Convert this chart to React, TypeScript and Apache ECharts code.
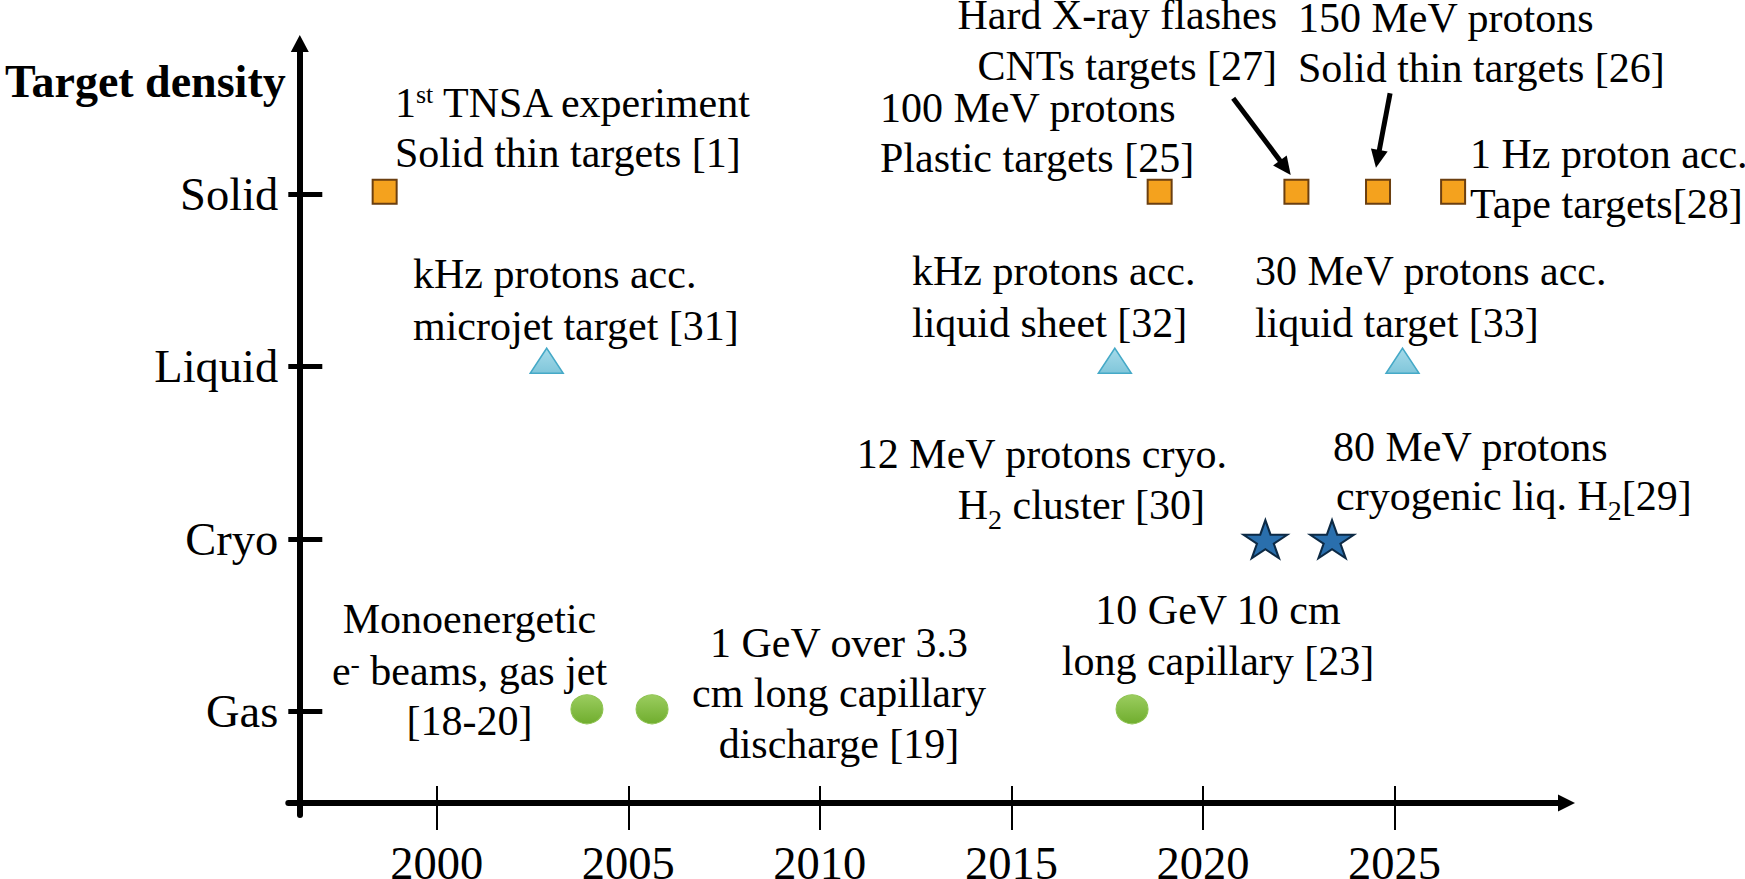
import React, { useEffect, useRef } from 'react';
import * as echarts from 'echarts';

// Target-density levels, bottom to top
const levelNames = ['Gas', 'Cryo', 'Liquid', 'Solid'];
const levelTicks = [1, 2, 3, 4];
const yearTicks = [2000, 2005, 2010, 2015, 2020, 2025];

// Experiment years on each density level
const solidYears = [1998.64, 2018.87, 2022.44, 2024.57, 2026.53];
const liquidYears = [2002.87, 2017.7, 2025.21];
const cryoYears = [2021.63, 2023.37];
const gasYears = [2003.92, 2005.62, 2018.15];

// Pointer arrows (from caption to marker), in [year, level]
const arrowFrom = [
  [2020.79, 4.557],
  [2024.885, 4.586],
];
const arrowTo = [
  [2022.15, 4.154],
  [2024.56, 4.205],
];

const X_MIN = 1996.125;
const X_MAX = 2029.49;
const Y_MIN = 0.401;
const Y_MAX = 4.874;

const SERIF = "'Liberation Serif', 'Times New Roman', Times, serif";
const NOTE_SIZE = 42;
const fontOf = (size: number, weight = 'normal') => `${weight} ${size}px ${SERIF}`;

type Align = 'left' | 'center' | 'right';
type Note = { text: string; x: number; base: number; align: Align };

// Caption lines; rich markup: {sup|..} superscript, {neg|..} raised minus, {sub|..} subscript
const notes: Note[] = [
  { text: '{n|1}{sup|st}{n| TNSA experiment}', x: 395, base: 117, align: 'left' },
  { text: 'Solid thin targets [1]', x: 395, base: 167, align: 'left' },
  { text: 'kHz protons acc.', x: 413, base: 288, align: 'left' },
  { text: 'microjet target [31]', x: 413, base: 340, align: 'left' },
  { text: '100 MeV protons', x: 880, base: 122, align: 'left' },
  { text: 'Plastic targets [25]', x: 880, base: 172, align: 'left' },
  { text: 'Hard X-ray flashes', x: 1277, base: 29, align: 'right' },
  { text: 'CNTs targets [27]', x: 1277, base: 80, align: 'right' },
  { text: '150 MeV protons', x: 1298, base: 32, align: 'left' },
  { text: 'Solid thin targets [26]', x: 1298, base: 82, align: 'left' },
  { text: '1 Hz proton acc.', x: 1470, base: 168, align: 'left' },
  { text: 'Tape targets[28]', x: 1470, base: 218, align: 'left' },
  { text: 'kHz protons acc.', x: 912, base: 285, align: 'left' },
  { text: 'liquid sheet [32]', x: 912, base: 337, align: 'left' },
  { text: '30 MeV protons acc.', x: 1255, base: 285, align: 'left' },
  { text: 'liquid target [33]', x: 1255, base: 337, align: 'left' },
  { text: '12 MeV protons cryo.', x: 1227, base: 468, align: 'right' },
  { text: '{s|H}{sub|2}{s| cluster [30]}', x: 1205, base: 519, align: 'right' },
  { text: '80 MeV protons', x: 1333, base: 461, align: 'left' },
  { text: '{s|cryogenic liq. H}{sub|2}{s|[29]}', x: 1336, base: 510, align: 'left' },
  { text: '10 GeV 10 cm', x: 1218, base: 624, align: 'center' },
  { text: 'long capillary [23]', x: 1218, base: 675, align: 'center' },
  { text: 'Monoenergetic', x: 469.5, base: 633, align: 'center' },
  { text: '{n|e}{neg|-}{n| beams, gas jet}', x: 469.5, base: 685, align: 'center' },
  { text: '[18-20]', x: 469.5, base: 735, align: 'center' },
  { text: '1 GeV over 3.3', x: 839, base: 657, align: 'center' },
  { text: 'cm long capillary', x: 839, base: 707, align: 'center' },
  { text: 'discharge [19]', x: 839, base: 758, align: 'center' },
];

const richStyles = {
  n: { font: fontOf(NOTE_SIZE), fontSize: NOTE_SIZE, fontFamily: SERIF, lineHeight: 42, fill: '#000' },
  s: { font: fontOf(NOTE_SIZE), fontSize: NOTE_SIZE, fontFamily: SERIF, lineHeight: 58, fill: '#000' },
  sup: { font: fontOf(26), fontSize: 26, fontFamily: SERIF, lineHeight: 26, verticalAlign: 'top', fill: '#000' },
  neg: { font: fontOf(28), fontSize: 28, fontFamily: SERIF, lineHeight: 18, verticalAlign: 'top', fill: '#000' },
  sub: { font: fontOf(28), fontSize: 28, fontFamily: SERIF, lineHeight: 28, verticalAlign: 'bottom', fill: '#000' },
};

const STAR =
  'path://M50,0L61.23,34.55L97.55,34.55L68.17,55.9L79.39,90.45L50,69.1L20.61,90.45L31.83,55.9L2.45,34.55L38.77,34.55Z';

export default function App() {
  const ref = useRef<HTMLDivElement>(null);

  useEffect(() => {
    if (!ref.current) return;
    const chart = echarts.init(ref.current, undefined, { renderer: 'svg' });

    const noteGraphics = notes.map((nt) => {
      const hasRich = nt.text.startsWith('{');
      return {
        type: 'text',
        x: nt.x,
        y: nt.base - 0.3375 * NOTE_SIZE,
        silent: true,
        style: {
          text: nt.text,
          font: fontOf(NOTE_SIZE),
          fill: '#000',
          align: nt.align,
          textAlign: nt.align,
          verticalAlign: 'middle',
          textVerticalAlign: 'middle',
          ...(hasRich ? { rich: richStyles } : {}),
        },
      };
    });

    const valueAxisBase = { type: 'value', splitLine: { show: false } };

    chart.setOption({
      animation: false,
      backgroundColor: '#ffffff',
      grid: {
        left: 288.3,
        right: 178.5,
        top: 43.5,
        bottom: 64,
        containLabel: false,
        outerBoundsMode: 'none',
      },
      xAxis: [
        {
          ...valueAxisBase,
          min: X_MIN,
          max: X_MAX,
          position: 'bottom',
          offset: -12,
          axisLine: {
            show: true,
            onZero: false,
            lineStyle: { color: '#000', width: 6 },
            symbol: ['none', 'triangle'],
            symbolSize: [17, 17],
          },
          axisTick: { show: false },
          axisLabel: {
            show: true,
            customValues: yearTicks,
            margin: 36.5,
            color: '#000',
            fontSize: 46.5,
            fontFamily: SERIF,
            formatter: (v: number) => String(Math.round(v)),
          },
        },
        {
          ...valueAxisBase,
          min: X_MIN,
          max: X_MAX,
          position: 'bottom',
          offset: -29,
          axisLine: { show: false, onZero: false },
          axisTick: {
            show: true,
            customValues: yearTicks,
            length: 44,
            lineStyle: { color: '#000', width: 2 },
          },
          axisLabel: { show: false },
        },
      ],
      yAxis: [
        {
          ...valueAxisBase,
          min: Y_MIN,
          max: Y_MAX,
          position: 'left',
          offset: -11.5,
          axisLine: {
            show: true,
            onZero: false,
            lineStyle: { color: '#000', width: 6 },
            symbol: ['none', 'triangle'],
            symbolSize: [18, 17],
          },
          axisTick: { show: false },
          axisLabel: {
            show: true,
            customValues: levelTicks,
            margin: 21.5,
            padding: [4, 0, 0, 0],
            color: '#000',
            fontSize: 46.5,
            fontFamily: SERIF,
            formatter: (v: number) => levelNames[Math.round(v) - 1] ?? '',
          },
        },
        {
          ...valueAxisBase,
          min: Y_MIN,
          max: Y_MAX,
          position: 'left',
          offset: 0,
          axisLine: { show: false, onZero: false },
          axisTick: {
            show: true,
            inside: true,
            customValues: levelTicks,
            length: 34,
            lineStyle: { color: '#000', width: 5 },
          },
          axisLabel: { show: false },
        },
      ],
      graphic: [
        {
          type: 'text',
          x: 5,
          y: 97 - 0.3375 * 46,
          silent: true,
          style: {
            text: 'Target density',
            font: fontOf(46, 'bold'),
            fill: '#000',
            align: 'left',
            textAlign: 'left',
            verticalAlign: 'middle',
            textVerticalAlign: 'middle',
          },
        },
        ...noteGraphics,
      ],
      series: [
        {
          name: 'Solid',
          type: 'scatter',
          symbol: 'rect',
          symbolSize: [24, 24],
          symbolOffset: [0, -2.5],
          itemStyle: { color: '#F4A21E', borderColor: '#6B3F10', borderWidth: 2, opacity: 1 },
          data: solidYears.map((y) => [y, 4]),
          silent: true,
          z: 5,
          markLine: {
            silent: true,
            symbol: ['none', 'triangle'],
            symbolSize: [17, 18],
            label: { show: false },
            lineStyle: { color: '#000', width: 5, type: 'solid', opacity: 1 },
            emphasis: { disabled: true },
            data: arrowFrom.map((f, i) => [{ coord: f }, { coord: arrowTo[i] }]),
          },
        },
        {
          name: 'Liquid',
          type: 'scatter',
          symbol: 'triangle',
          symbolSize: [33, 25],
          symbolOffset: [0, -6],
          itemStyle: {
            color: new echarts.graphic.LinearGradient(0, 0, 0, 1, [
              { offset: 0, color: '#a6dbea' },
              { offset: 1, color: '#80c6da' },
            ]),
            borderColor: '#45a9c7',
            borderWidth: 1.5,
            opacity: 1,
          },
          data: liquidYears.map((y) => [y, 3]),
          silent: true,
          z: 5,
        },
        {
          name: 'Cryo',
          type: 'scatter',
          symbol: STAR,
          symbolSize: [44, 38],
          itemStyle: { color: '#2A6FAD', borderColor: '#0D2A45', borderWidth: 2, opacity: 1 },
          data: cryoYears.map((y) => [y, 2]),
          silent: true,
          z: 5,
        },
        {
          name: 'Gas',
          type: 'scatter',
          symbol: 'circle',
          symbolSize: [32, 29],
          symbolOffset: [0, -2.4],
          itemStyle: {
            color: new echarts.graphic.LinearGradient(0, 0, 0, 1, [
              { offset: 0, color: '#9bcd5f' },
              { offset: 1, color: '#70ad2e' },
            ]),
            borderColor: '#8cc24e',
            borderWidth: 1,
            opacity: 1,
          },
          data: gasYears.map((y) => [y, 1]),
          silent: true,
          z: 5,
        },
      ],
    });

    return () => chart.dispose();
  }, []);

  return (
    <div
      ref={ref}
      style={{ position: 'fixed', left: 0, top: 0, width: 1745, height: 879, background: '#fff' }}
    />
  );
}
